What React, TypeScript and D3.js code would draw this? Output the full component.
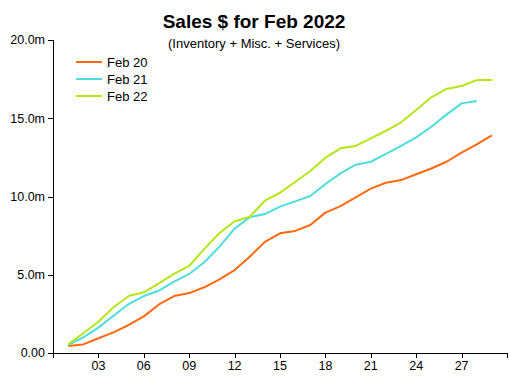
import React from "react";
import * as d3 from "d3";

const days = [1,2,3,4,5,6,7,8,9,10,11,12,13,14,15,16,17,18,19,20,21,22,23,24,25,26,27,28,29];
const feb20 = [0.45,0.55,0.94,1.32,1.79,2.34,3.1,3.64,3.83,4.2,4.7,5.3,6.15,7.1,7.65,7.8,8.18,8.97,9.39,9.95,10.5,10.88,11.05,11.42,11.79,12.22,12.8,13.33,13.9];
const feb21 = [0.51,1.0,1.62,2.38,3.13,3.64,3.98,4.56,5.05,5.8,6.8,7.95,8.67,8.88,9.35,9.69,10.03,10.8,11.48,12.03,12.22,12.72,13.23,13.78,14.46,15.23,15.95,16.1];
const feb22 = [0.55,1.26,2.0,2.92,3.64,3.88,4.45,5.05,5.56,6.65,7.67,8.42,8.71,9.73,10.24,10.93,11.63,12.48,13.08,13.23,13.72,14.2,14.74,15.53,16.34,16.87,17.06,17.44,17.44];
const seriesNames = ["Feb 20", "Feb 21", "Feb 22"];
const seriesValues = [feb20, feb21, feb22];
const colors = ["#ff6a10", "#50dcdc", "#b4e61a"];
const xTicks = [0,3,6,9,12,15,18,21,24,27,30];
const xTickLabels = ["", "03","06","09","12","15","18","21","24","27",""];
const yTicks = [0,5,10,15,20];
const yTickLabels = ["0.00","5.0m","10.0m","15.0m","20.0m"];
const title = "Sales $ for Feb 2022";
const subtitle = "(Inventory + Misc. + Services)";

export default function App() {
  const W = 510, H = 382;
  const left = 53, right = 507, top = 40, bottom = 353;
  const x = d3.scaleLinear().domain([0, 30]).range([left, right]);
  const y = d3.scaleLinear().domain([0, 20]).range([bottom, top]);
  const line = d3.line<number>().x((_, i) => x(days[i])).y((v) => y(v));
  const font = "'Liberation Sans', Arial, sans-serif";
  return (
    <svg width={W} height={H} style={{ position: "absolute", left: 0, top: 0, background: "#fff" }} fontFamily={font}>
      <text x={254} y={28} textAnchor="middle" fontSize={19} fontWeight="bold">{title}</text>
      <text x={254} y={48} textAnchor="middle" fontSize={13}>{subtitle}</text>
      <line x1={left + 0.5} x2={left + 0.5} y1={y(20)} y2={bottom} stroke="#000" />
      <line x1={left} x2={right} y1={bottom + 0.5} y2={bottom + 0.5} stroke="#000" />
      {yTicks.map((t, i) => (
        <g key={"y" + t}>
          <line x1={left - 5} x2={left} y1={Math.round(y(t)) + 0.5} y2={Math.round(y(t)) + 0.5} stroke="#000" />
          <text x={left - 8} y={y(t)} dy="0.35em" textAnchor="end" fontSize={12.5}>{yTickLabels[i]}</text>
        </g>
      ))}
      {xTicks.map((t, i) => (
        <g key={"x" + t}>
          <line x1={Math.round(x(t)) + 0.5} x2={Math.round(x(t)) + 0.5} y1={bottom} y2={bottom + 5} stroke="#000" />
          <text x={x(t)} y={bottom + 17} textAnchor="middle" fontSize={12.5}>{xTickLabels[i]}</text>
        </g>
      ))}
      {seriesValues.map((s, i) => (
        <path key={seriesNames[i]} d={line(s) || ""} fill="none" stroke={colors[i]} strokeWidth={2} strokeLinejoin="round" />
      ))}
      {seriesNames.map((n, i) => (
        <g key={"lg" + n}>
          <line x1={76} x2={102} y1={62 + i * 17} y2={62 + i * 17} stroke={colors[i]} strokeWidth={2} />
          <text x={107} y={62 + i * 17} dy="0.35em" fontSize={13}>{n}</text>
        </g>
      ))}
    </svg>
  );
}
